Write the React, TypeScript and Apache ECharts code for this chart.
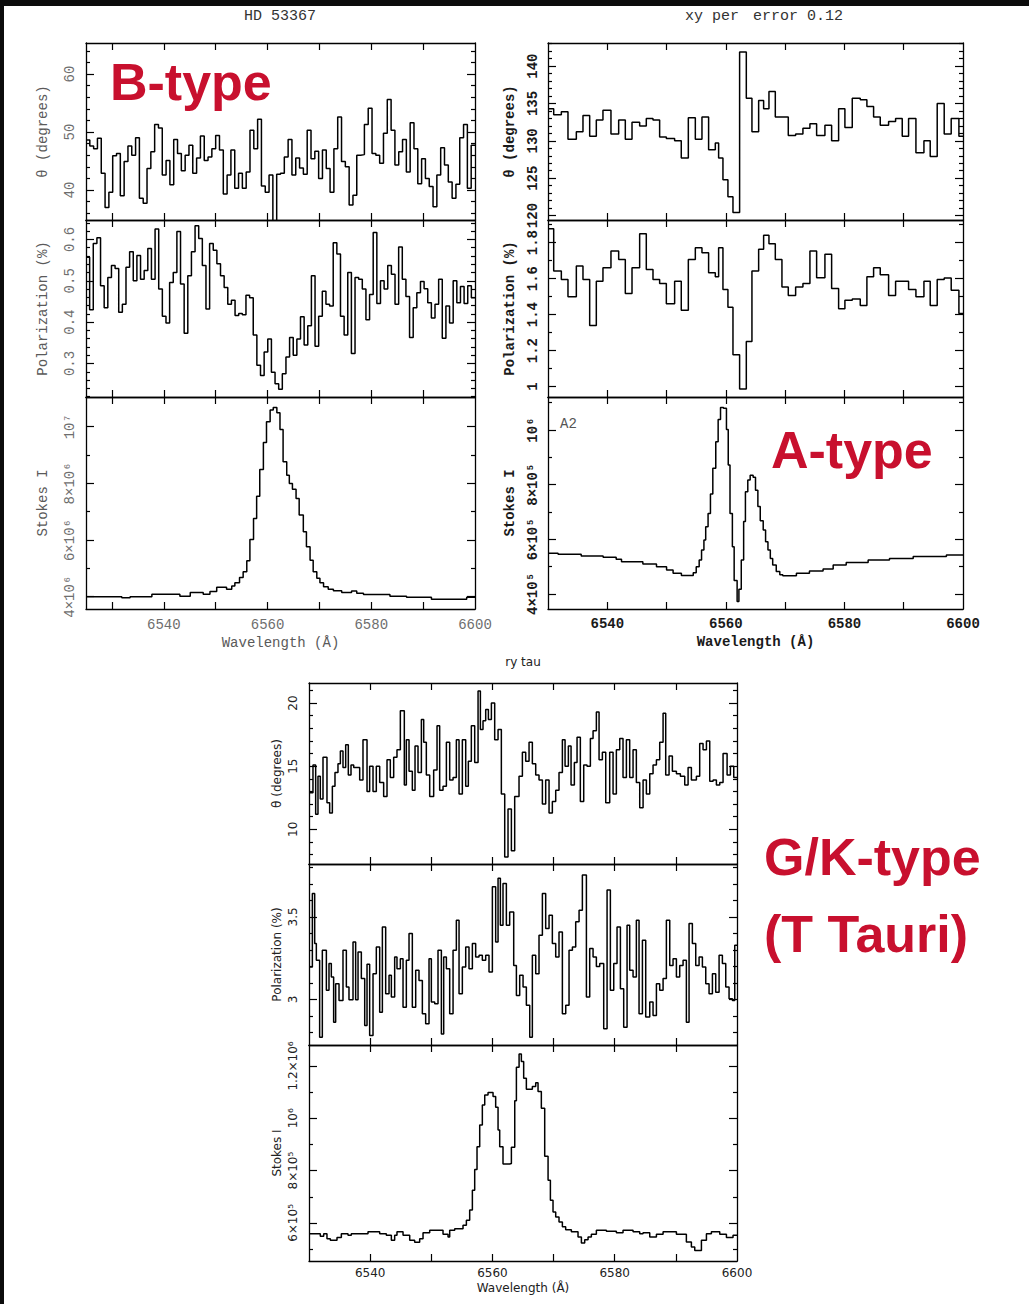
import React, { useEffect, useRef } from "react";
import * as echarts from "echarts";

// ---------- shared wavelength axis ----------
const WAVE_LABELS = [6540, 6560, 6580, 6600];
const WAVE_TICKS_B = [6530, 6540, 6550, 6560, 6570, 6580, 6590];
const WAVE_TICKS = [6540, 6550, 6560, 6570, 6580, 6590];

// ---------- B-type : HD 53367 (6525-6600 A, uniform bins) ----------
const bTheta = [
  48.6, 47.6, 47.1, 48.9, 42.9, 37.0, 39.6, 45.9, 46.3, 39.0,
  44.9, 47.6, 46.0, 49.0, 38.6, 37.7, 43.7, 46.6, 51.3, 50.7,
  42.6, 45.1, 40.9, 48.7, 46.3, 43.3, 46.0, 47.7, 42.9, 45.5,
  49.3, 45.1, 45.7, 47.1, 49.4, 46.9, 39.3, 42.6, 46.9, 40.3,
  42.9, 40.3, 43.1, 50.3, 47.1, 52.2, 40.7, 39.6, 42.6, 34.6,
  42.7, 42.9, 45.7, 48.7, 42.6, 45.5, 43.8, 42.7, 50.3, 45.4,
  46.7, 42.0, 46.9, 43.7, 39.6, 47.1, 52.6, 44.9, 44.0, 37.4,
  39.1, 46.0, 46.1, 51.3, 54.1, 46.3, 46.0, 44.6, 49.8, 55.6,
  50.3, 44.3, 46.6, 48.7, 43.1, 51.6, 47.1, 41.1, 45.4, 42.0,
  40.6, 37.1, 42.6, 47.3, 44.3, 41.4, 38.6, 41.0, 49.0, 51.3,
  40.3, 47.7,
];
const bPol = [
  0.557, 0.43, 0.59, 0.604, 0.488, 0.435, 0.508, 0.537, 0.53, 0.424,
  0.443, 0.533, 0.57, 0.5, 0.561, 0.504, 0.525, 0.578, 0.504, 0.625,
  0.48, 0.414, 0.398, 0.496, 0.52, 0.619, 0.492, 0.373, 0.512, 0.57,
  0.633, 0.602, 0.537, 0.432, 0.59, 0.574, 0.541, 0.512, 0.484, 0.443,
  0.453, 0.416, 0.421, 0.418, 0.465, 0.459, 0.369, 0.296, 0.271, 0.328,
  0.359, 0.279, 0.251, 0.238, 0.275, 0.316, 0.363, 0.32, 0.359, 0.413,
  0.345, 0.391, 0.512, 0.342, 0.414, 0.475, 0.443, 0.439, 0.592, 0.565,
  0.414, 0.369, 0.52, 0.324, 0.508, 0.504, 0.48, 0.406, 0.467, 0.617,
  0.445, 0.5, 0.48, 0.537, 0.516, 0.443, 0.582, 0.504, 0.462, 0.363,
  0.435, 0.471, 0.498, 0.481, 0.447, 0.41, 0.443, 0.504, 0.361, 0.439,
  0.398, 0.5, 0.447, 0.486, 0.445, 0.488, 0.459,
];
const bStokesEdges = [
  6525.0, 6531.9, 6533.5, 6537.7, 6543.1, 6545.1, 6547.6, 6548.9, 6550.2, 6552.1,
  6553.1, 6553.7, 6554.6, 6555.3, 6556.0, 6556.6, 6557.3, 6557.9, 6558.5, 6559.2,
  6559.8, 6560.5, 6561.1, 6561.8, 6562.4, 6563.0, 6563.7, 6564.2, 6564.8, 6565.5,
  6566.1, 6566.9, 6567.5, 6568.2, 6568.8, 6569.5, 6570.1, 6570.8, 6571.7, 6572.7,
  6574.3, 6576.2, 6577.2, 6578.5, 6583.6, 6586.8, 6591.6, 6598.4,
];
// Stokes I in units of 10^6
const bStokesI = [
  4.0, 3.96, 4.0, 4.09, 4.02, 4.15, 4.09, 4.18, 4.33, 4.26,
  4.38, 4.49, 4.68, 4.88, 5.27, 6.02, 6.76, 7.55, 8.49, 9.44,
  10.18, 10.59, 10.68, 10.49, 9.9, 8.76, 8.29, 8.0, 7.79, 7.47,
  6.88, 6.29, 5.76, 5.29, 4.88, 4.65, 4.49, 4.35, 4.26, 4.21,
  4.15, 4.2, 4.12, 4.08, 4.02, 3.98, 3.91, 3.98,
];

// ---------- A-type : xy per (6530-6600 A) ----------
const aEdges = [
  6530.0, 6530.96, 6532.25, 6533.37, 6534.78, 6535.9, 6537.03, 6538.15, 6539.27, 6540.62,
  6541.92, 6543.04, 6544.17, 6545.46, 6546.58, 6547.71, 6548.83, 6549.96, 6551.36, 6552.48,
  6553.67, 6554.85, 6555.97, 6557.09, 6558.22, 6558.78, 6559.51, 6560.35, 6561.2, 6562.32,
  6563.45, 6564.4, 6565.53, 6566.37, 6567.27, 6568.34, 6569.46, 6570.53, 6571.77, 6573.0,
  6574.18, 6575.31, 6576.71, 6577.84, 6579.02, 6580.08, 6581.32, 6582.67, 6583.79, 6584.92,
  6586.04, 6587.45, 6588.63, 6589.75, 6590.82, 6592.06, 6593.41, 6594.47, 6595.65, 6596.83,
  6598.01, 6599.31,
];
const aTheta = [
  134.3, 133.5, 133.9, 130.2, 131.2, 133.4, 130.6, 132.8, 134.1, 130.9,
  132.8, 130.2, 132.5, 132.0, 133.0, 132.8, 130.5, 130.3, 130.0, 127.7,
  133.1, 130.2, 133.2, 128.8, 129.7, 127.7, 124.8, 122.5, 120.4, 141.9,
  135.7, 131.2, 135.4, 134.3, 136.6, 133.2, 133.2, 130.7, 130.9, 131.7,
  132.3, 130.7, 132.1, 130.0, 134.3, 131.8, 135.7, 135.5, 134.6, 133.2,
  132.1, 132.6, 133.0, 130.6, 133.0, 128.4, 130.0, 127.9, 135.0, 130.9,
  133.0, 130.6,
];
const aPol = [
  1.878, 1.642, 1.595, 1.499, 1.67, 1.595, 1.339, 1.586, 1.66, 1.753,
  1.707, 1.517, 1.66, 1.85, 1.651, 1.595, 1.573, 1.461, 1.586, 1.424,
  1.707, 1.772, 1.744, 1.633, 1.61, 1.772, 1.54, 1.441, 1.177, 0.987,
  1.251, 1.642, 1.763, 1.841, 1.794, 1.707, 1.554, 1.506, 1.554, 1.573,
  1.753, 1.605, 1.735, 1.545, 1.432, 1.48, 1.487, 1.45, 1.61, 1.66,
  1.621, 1.506, 1.586, 1.586, 1.54, 1.499, 1.586, 1.45, 1.595, 1.603,
  1.536, 1.406,
];
const aStokesEdges = [
  6530.0, 6531.7, 6535.6, 6539.3, 6541.5, 6542.4, 6546.0, 6548.3, 6550.0, 6551.1,
  6552.5, 6554.5, 6555.0, 6555.5, 6555.9, 6556.3, 6556.6, 6557.0, 6557.4, 6557.8,
  6558.3, 6558.7, 6559.1, 6559.6, 6560.1, 6560.4, 6560.7, 6561.1, 6561.4, 6561.9,
  6562.2, 6562.6, 6563.0, 6563.3, 6563.7, 6564.1, 6564.6, 6565.0, 6565.4, 6565.8,
  6566.3, 6566.7, 6567.1, 6567.5, 6567.9, 6568.5, 6569.1, 6569.6, 6571.9, 6574.1,
  6576.4, 6578.1, 6580.3, 6584.0, 6587.6, 6591.6, 6597.2,
];
// Stokes I in units of 10^5
const aStokesI = [
  5.49, 5.45, 5.39, 5.34, 5.27, 5.18, 5.1, 5.0, 4.88, 4.76,
  4.68, 4.78, 5.0, 5.24, 5.61, 5.98, 6.46, 6.95, 7.66, 8.6,
  9.57, 10.39, 10.83, 10.8, 10.02, 8.72, 6.95, 5.73, 4.49, 3.72,
  4.17, 5.24, 6.65, 7.74, 8.17, 8.35, 8.27, 7.8, 7.2, 6.68,
  6.34, 5.91, 5.61, 5.3, 5.06, 4.82, 4.7, 4.67, 4.76, 4.84,
  4.91, 5.06, 5.15, 5.24, 5.3, 5.37, 5.43,
];

// ---------- G/K-type : RY Tau (6530-6600 A) ----------
const gkThetaEdges = [
  6530.0, 6530.65, 6531.09, 6531.47, 6531.85, 6532.29, 6532.94, 6533.38, 6533.82, 6534.25,
  6534.74, 6535.13, 6535.56, 6536.0, 6536.43, 6536.87, 6537.31, 6538.29, 6538.83, 6539.49,
  6539.92, 6540.47, 6541.01, 6541.56, 6542.21, 6542.76, 6543.3, 6543.85, 6544.39, 6544.94,
  6545.59, 6545.92, 6546.36, 6546.9, 6547.34, 6547.83, 6548.38, 6548.76, 6549.19, 6549.74,
  6550.39, 6550.94, 6551.37, 6551.92, 6552.47, 6553.01, 6553.56, 6554.1, 6554.54, 6555.08,
  6555.63, 6556.06, 6556.55, 6557.1, 6557.65, 6558.03, 6558.46, 6558.9, 6559.34, 6559.83,
  6560.37, 6560.92, 6561.46, 6562.01, 6562.55, 6563.1, 6563.64, 6564.35, 6564.9, 6565.44,
  6565.99, 6566.53, 6567.08, 6567.62, 6568.17, 6568.71, 6569.26, 6569.8, 6570.35, 6570.89,
  6571.44, 6571.88, 6572.42, 6572.86, 6573.4, 6573.84, 6574.38, 6574.93, 6575.47, 6576.02,
  6576.46, 6577.0, 6577.44, 6577.98, 6578.53, 6579.18, 6579.73, 6580.27, 6580.82, 6581.36,
  6581.91, 6582.45, 6583.0, 6583.54, 6584.09, 6584.64, 6585.18, 6585.73, 6586.27, 6586.82,
  6587.36, 6587.91, 6588.34, 6588.89, 6589.43, 6590.09, 6590.74, 6591.45, 6592.0, 6592.54,
  6593.36, 6593.9, 6594.45, 6595.0, 6595.54, 6596.09, 6596.63, 6597.18, 6597.72, 6598.38,
  6598.92, 6599.47,
];
const gkTheta = [
  12.9, 15.1, 11.2, 14.2, 12.4, 15.7, 12.1, 11.3, 13.4, 14.5,
  15.2, 16.2, 14.9, 16.7, 14.3, 15.1, 14.9, 13.9, 17.1, 13.0,
  15.0, 13.0, 15.0, 13.7, 12.6, 15.5, 14.1, 15.7, 16.3, 19.4,
  13.5, 17.1, 14.6, 13.1, 16.6, 14.5, 18.7, 16.9, 14.3, 12.6,
  14.7, 18.2, 13.1, 13.4, 16.9, 13.9, 14.1, 17.1, 12.8, 17.1,
  13.4, 15.4, 18.2, 15.3, 20.95, 17.9, 18.6, 19.5, 18.7, 20.0,
  17.1, 17.9, 12.8, 7.8, 11.6, 8.3, 12.6, 14.2, 16.1, 15.4,
  16.9, 15.2, 14.3, 13.9, 12.0, 13.9, 11.3, 12.2, 13.1, 14.5,
  17.1, 15.0, 16.6, 13.5, 15.3, 17.3, 12.2, 15.1, 15.0, 17.2,
  17.8, 19.3, 15.5, 16.1, 12.1, 16.1, 12.8, 16.3, 17.2, 14.1,
  17.1, 14.1, 16.3, 13.7, 11.7, 13.9, 12.8, 14.4, 15.1, 15.5,
  16.9, 19.2, 14.3, 15.8, 14.6, 14.4, 14.2, 13.5, 14.9, 13.9,
  14.2, 16.8, 16.3, 17.0, 13.8, 13.9, 13.5, 13.7, 16.0, 14.3,
  15.0, 14.1,
];
const gkPolEdges = [
  6530.0, 6530.55, 6530.93, 6531.2, 6531.74, 6532.18, 6532.84, 6533.27, 6533.65, 6534.03,
  6534.36, 6534.91, 6535.56, 6536.11, 6536.54, 6537.2, 6537.63, 6538.02, 6538.56, 6539.11,
  6539.49, 6539.92, 6540.47, 6541.01, 6541.56, 6542.0, 6542.54, 6543.09, 6543.47, 6544.01,
  6544.39, 6544.94, 6545.38, 6545.92, 6546.36, 6546.9, 6547.45, 6547.99, 6548.54, 6549.08,
  6549.63, 6550.01, 6550.56, 6551.1, 6551.65, 6552.03, 6552.47, 6553.01, 6553.56, 6554.1,
  6554.54, 6555.08, 6555.63, 6556.17, 6556.72, 6557.26, 6557.81, 6558.35, 6558.9, 6559.44,
  6559.99, 6560.53, 6560.92, 6561.3, 6561.73, 6562.28, 6562.82, 6563.48, 6563.92, 6564.46,
  6565.01, 6565.55, 6566.1, 6566.53, 6567.08, 6567.62, 6568.17, 6568.71, 6569.26, 6569.8,
  6570.35, 6570.89, 6571.44, 6571.99, 6572.53, 6573.08, 6573.62, 6574.17, 6574.71, 6575.37,
  6575.91, 6576.46, 6577.0, 6577.55, 6578.2, 6578.75, 6579.29, 6579.84, 6580.38, 6580.93,
  6581.47, 6582.02, 6582.45, 6583.0, 6583.54, 6583.98, 6584.53, 6585.07, 6585.73, 6586.27,
  6586.82, 6587.36, 6587.91, 6588.45, 6589.0, 6589.54, 6590.09, 6590.63, 6591.18, 6591.72,
  6592.16, 6592.7, 6593.25, 6593.8, 6594.34, 6594.89, 6595.43, 6595.98, 6596.52, 6597.07,
  6597.61, 6598.16, 6598.7, 6599.25, 6599.63,
];
const gkPol = [
  3.196, 3.642, 3.338, 3.237, 2.771, 3.298, 3.055, 3.217, 3.136, 2.862,
  3.095, 2.994, 3.298, 3.075, 2.998, 3.348, 2.998, 3.287, 3.126, 2.842,
  3.213, 2.781, 3.156, 3.318, 2.923, 3.439, 3.034, 3.146, 3.014, 3.257,
  3.186, 3.247, 2.953, 3.237, 3.399, 2.953, 3.176, 3.115, 2.913, 2.852,
  3.247, 2.984, 2.974, 3.298, 2.791, 3.257, 3.186, 2.913, 3.298, 3.48,
  3.034, 3.196, 3.318, 3.186, 3.338, 3.257, 3.267, 3.237, 3.267, 3.166,
  3.682, 3.348, 3.733, 3.449, 3.702, 3.449, 3.53, 3.206, 3.024, 3.146,
  3.075, 2.964, 2.771, 3.267, 3.156, 3.389, 3.642, 3.429, 3.51, 3.338,
  3.257, 3.409, 2.913, 2.964, 3.298, 3.318, 3.47, 3.54, 3.753, 3.014,
  3.308, 3.257, 3.2, 3.217, 2.822, 3.662, 3.055, 3.217, 3.439, 3.065,
  2.832, 3.449, 3.176, 3.136, 3.48, 2.913, 3.358, 2.893, 2.984, 2.903,
  3.095, 3.055, 3.126, 3.48, 3.206, 3.247, 3.136, 3.206, 3.237, 2.862,
  3.46, 3.338, 3.206, 3.257, 3.196, 3.095, 3.034, 3.156, 3.044, 3.267,
  3.217, 3.075, 3.004, 2.994, 3.328,
];
const gkStokesEdges = [
  6530.0, 6531.85, 6532.4, 6532.94, 6533.49, 6534.58, 6535.29, 6536.38, 6536.92, 6539.65,
  6541.56, 6542.65, 6543.47, 6544.01, 6544.39, 6545.38, 6546.47, 6547.28, 6548.1, 6548.65,
  6549.74, 6551.92, 6552.74, 6553.01, 6553.83, 6555.19, 6555.74, 6556.28, 6556.72, 6557.1,
  6557.48, 6557.92, 6558.35, 6558.74, 6559.28, 6560.1, 6560.53, 6560.92, 6561.19, 6561.73,
  6562.82, 6563.1, 6563.65, 6563.92, 6564.36, 6564.73, 6565.11, 6565.55, 6566.53, 6567.08,
  6567.46, 6568.0, 6568.55, 6569.1, 6569.48, 6569.91, 6570.35, 6570.89, 6571.44, 6571.98,
  6572.91, 6574.0, 6574.55, 6575.09, 6575.64, 6576.18, 6577.0, 6578.64, 6580.27, 6581.36,
  6583.0, 6584.09, 6584.63, 6585.73, 6586.82, 6587.91, 6590.09, 6591.72, 6592.54, 6593.09,
  6594.18, 6595.0, 6595.81, 6597.18, 6598.27, 6599.35,
];
// Stokes I in units of 10^5
const gkStokesI = [
  5.59, 5.49, 5.59, 5.4, 5.34, 5.44, 5.59, 5.53, 5.59, 5.66,
  5.59, 5.53, 5.34, 5.53, 5.66, 5.53, 5.34, 5.26, 5.4, 5.62,
  5.72, 5.57, 5.46, 5.72, 5.78, 5.91, 6.1, 6.49, 7.25, 8.04,
  8.91, 9.74, 10.51, 10.89, 10.98, 10.83, 10.42, 9.55, 8.91, 8.25,
  8.27, 8.89, 10.67, 11.95, 12.46, 12.17, 11.53, 11.11, 11.21, 11.36,
  11.02, 10.38, 8.55, 7.63, 6.87, 6.42, 6.23, 6.04, 5.85, 5.74,
  5.66, 5.46, 5.23, 5.36, 5.46, 5.57, 5.72, 5.68, 5.62, 5.72,
  5.66, 5.59, 5.62, 5.46, 5.57, 5.66, 5.57, 5.27, 5.08, 4.95,
  5.34, 5.59, 5.66, 5.57, 5.44, 5.53,
];

// ---------- y tick values / labels ----------
const bThetaTicks = [40, 50, 60];
const bThetaLabels = ["40", "50", "60"];
const bThetaMinor = [36, 38, 42, 44, 46, 48, 52, 54, 56, 58, 62, 64];
const bPolTicks = [0.3, 0.4, 0.5, 0.6];
const bPolLabels = ["0.3", "0.4", "0.5", "0.6"];
const bPolMinor = [0.22, 0.24, 0.26, 0.28, 0.32, 0.34, 0.36, 0.38, 0.42, 0.44, 0.46, 0.48, 0.52, 0.54, 0.56, 0.58, 0.62, 0.64];
const bStokesTicks = [4, 6, 8, 10];
const bStokesLabels = ["4×10⁶", "6×10⁶", "8×10⁶", "10⁷"];
const bStokesMinor = [5, 7, 9];

const aThetaTicks = [120, 125, 130, 135, 140];
const aThetaLabels = ["120", "125", "130", "135", "140"];
const aThetaMinor = [121, 122, 123, 124, 126, 127, 128, 129, 131, 132, 133, 134, 136, 137, 138, 139, 141, 142, 143];
const aPolTicks = [1, 1.2, 1.4, 1.6, 1.8];
const aPolLabels = ["1", "1.2", "1.4", "1.6", "1.8"];
const aPolMinor = [1.1, 1.3, 1.5, 1.7, 1.9];
const aStokesTicks = [4, 6, 8, 10];
const aStokesLabels = ["4×10⁵", "6×10⁵", "8×10⁵", "10⁶"];
const aStokesMinor = [5, 7, 9, 11];

const gkThetaTicks = [10, 15, 20];
const gkThetaLabels = ["10", "15", "20"];
const gkThetaMinor = [8, 9, 11, 12, 13, 14, 16, 17, 18, 19, 21];
const gkPolTicks = [3, 3.5];
const gkPolLabels = ["3", "3.5"];
const gkPolMinor = [2.8, 2.9, 3.1, 3.2, 3.3, 3.4, 3.6, 3.7, 3.8];
const gkStokesTicks = [6, 8, 10, 12];
const gkStokesLabels = ["6×10⁵", "8×10⁵", "10⁶", "1.2×10⁶"];
const gkStokesMinor = [5, 7, 9, 11];

// ---------- helpers ----------
function uniformEdges(x0: number, x1: number, n: number) {
  const out: number[] = [];
  for (let i = 0; i < n; i++) out.push(x0 + ((x1 - x0) * i) / n);
  return out;
}
function stepData(edges: number[], vals: number[], end: number) {
  const n = Math.min(edges.length, vals.length);
  const d: number[][] = [];
  for (let i = 0; i < n; i++) d.push([edges[i], vals[i]]);
  d.push([end, vals[n - 1]]);
  return d;
}

const MONO = '"Liberation Mono", "DejaVu Sans Mono", monospace';
const SANS = '"DejaVu Sans", "Liberation Sans", sans-serif';

const styleB = { family: MONO, size: 14, color: "#6e6e6e", nameColor: "#5a5a5a", weight: "normal", yLabelMargin: 9, yNameGap: 36, xLabelMargin: 9, xNameGap: 27 };
const styleA = { family: MONO, size: 14, color: "#1a1a1a", nameColor: "#1a1a1a", weight: "bold", yLabelMargin: 8, yNameGap: 31, xLabelMargin: 8, xNameGap: 26 };
const styleG = { family: SANS, size: 12, color: "#222", nameColor: "#222", weight: "normal", yLabelMargin: 10, yNameGap: 26, xLabelMargin: 6, xNameGap: 21 };

function buildOption() {
  const panels = [
    // B-type
    { left: 86, top: 43, width: 389, height: 177, xMin: 6525, xMax: 6600, xTicks: WAVE_TICKS_B, showX: false,
      yMin: 34.83, yMax: 65.34, yMajor: bThetaTicks, yLabels: bThetaLabels, yMinor: bThetaMinor, yName: "θ (degrees)",
      data: stepData(uniformEdges(6525, 6600, bTheta.length), bTheta, 6600), s: styleB },
    { left: 86, top: 220, width: 389, height: 177, xMin: 6525, xMax: 6600, xTicks: WAVE_TICKS_B, showX: false,
      yMin: 0.219, yMax: 0.647, yMajor: bPolTicks, yLabels: bPolLabels, yMinor: bPolMinor, yName: "Polarization (%)",
      data: stepData(uniformEdges(6525, 6600, bPol.length), bPol, 6600), s: styleB },
    { left: 86, top: 397, width: 389, height: 212, xMin: 6525, xMax: 6600, xTicks: WAVE_TICKS_B, showX: true,
      yMin: 3.566, yMax: 11.05, yMajor: bStokesTicks, yLabels: bStokesLabels, yMinor: bStokesMinor, yName: "Stokes I",
      data: stepData(bStokesEdges, bStokesI, 6600), s: styleB },
    // A-type
    { left: 548, top: 43, width: 415, height: 177, xMin: 6530, xMax: 6600, xTicks: WAVE_TICKS, showX: false,
      yMin: 119.4, yMax: 143.1, yMajor: aThetaTicks, yLabels: aThetaLabels, yMinor: aThetaMinor, yName: "θ (degrees)",
      data: stepData(aEdges, aTheta, 6600), s: styleA },
    { left: 548, top: 220, width: 415, height: 177, xMin: 6530, xMax: 6600, xTicks: WAVE_TICKS, showX: false,
      yMin: 0.942, yMax: 1.926, yMajor: aPolTicks, yLabels: aPolLabels, yMinor: aPolMinor, yName: "Polarization (%)",
      data: stepData(aEdges, aPol, 6600), s: styleA },
    { left: 548, top: 397, width: 415, height: 212, xMin: 6530, xMax: 6600, xTicks: WAVE_TICKS, showX: true,
      yMin: 3.45, yMax: 11.21, yMajor: aStokesTicks, yLabels: aStokesLabels, yMinor: aStokesMinor, yName: "Stokes I",
      data: stepData(aStokesEdges, aStokesI, 6600), s: styleA },
    // G/K-type
    { left: 309, top: 683, width: 428, height: 181, xMin: 6530, xMax: 6600, xTicks: WAVE_TICKS, showX: false,
      yMin: 7.25, yMax: 21.59, yMajor: gkThetaTicks, yLabels: gkThetaLabels, yMinor: gkThetaMinor, yName: "θ (degrees)",
      data: stepData(gkThetaEdges, gkTheta, 6600), s: styleG },
    { left: 309, top: 864, width: 428, height: 181, xMin: 6530, xMax: 6600, xTicks: WAVE_TICKS, showX: false,
      yMin: 2.724, yMax: 3.82, yMajor: gkPolTicks, yLabels: gkPolLabels, yMinor: gkPolMinor, yName: "Polarization (%)",
      data: stepData(gkPolEdges, gkPol, 6600), s: styleG },
    { left: 309, top: 1045, width: 428, height: 216, xMin: 6530, xMax: 6600, xTicks: WAVE_TICKS, showX: true,
      yMin: 4.545, yMax: 12.8, yMajor: gkStokesTicks, yLabels: gkStokesLabels, yMinor: gkStokesMinor, yName: "Stokes I",
      data: stepData(gkStokesEdges, gkStokesI, 6600), s: styleG },
  ];

  const grid: any[] = [];
  const xAxis: any[] = [];
  const yAxis: any[] = [];
  const series: any[] = [];
  const frame = { color: "#000", width: 1.3 };
  const tickLine = { color: "#000", width: 1.2 };

  panels.forEach((p, g) => {
    const s = p.s;
    grid.push({ left: p.left, top: p.top, width: p.width, height: p.height, containLabel: false });
    const xi = xAxis.length;
    xAxis.push({
      type: "value", gridIndex: g, position: "bottom", min: p.xMin, max: p.xMax,
      axisLine: { show: true, onZero: false, lineStyle: frame },
      axisTick: { show: true, inside: true, length: 7, customValues: p.xTicks, lineStyle: tickLine },
      axisLabel: {
        show: p.showX, customValues: WAVE_LABELS, margin: s.xLabelMargin,
        fontFamily: s.family, fontSize: s.size, color: s.color, fontWeight: s.weight,
        formatter: (v: number) => String(Math.round(v)),
      },
      splitLine: { show: false },
      name: p.showX ? "Wavelength (Å)" : "",
      nameLocation: "middle", nameGap: s.xNameGap,
      nameTextStyle: { fontFamily: s.family, fontSize: s.size, color: s.nameColor, fontWeight: s.weight },
    });
    xAxis.push({
      type: "value", gridIndex: g, position: "top", min: p.xMin, max: p.xMax,
      axisLine: { show: true, onZero: false, lineStyle: frame },
      axisTick: { show: true, inside: true, length: 7, customValues: p.xTicks, lineStyle: tickLine },
      axisLabel: { show: false }, splitLine: { show: false },
    });
    const yi = yAxis.length;
    const fmt = (v: number) => {
      const i = p.yMajor.findIndex((m) => Math.abs(m - v) < 1e-6);
      return i >= 0 ? p.yLabels[i] : "";
    };
    yAxis.push({
      type: "value", gridIndex: g, position: "left", min: p.yMin, max: p.yMax,
      axisLine: { show: true, onZero: false, lineStyle: frame },
      axisTick: { show: true, inside: true, length: 8, customValues: p.yMajor, lineStyle: tickLine },
      axisLabel: {
        show: true, customValues: p.yMajor, rotate: 90, margin: s.yLabelMargin,
        fontFamily: s.family, fontSize: s.size, color: s.color, fontWeight: s.weight, formatter: fmt,
      },
      splitLine: { show: false },
      name: p.yName, nameLocation: "middle", nameRotate: 90, nameGap: s.yNameGap,
      nameTextStyle: { fontFamily: s.family, fontSize: s.size, color: s.nameColor, fontWeight: s.weight },
    });
    yAxis.push({
      type: "value", gridIndex: g, position: "left", min: p.yMin, max: p.yMax,
      axisLine: { show: false, onZero: false },
      axisTick: { show: true, inside: true, length: 4, customValues: p.yMinor, lineStyle: tickLine },
      axisLabel: { show: false }, splitLine: { show: false },
    });
    yAxis.push({
      type: "value", gridIndex: g, position: "right", min: p.yMin, max: p.yMax,
      axisLine: { show: true, onZero: false, lineStyle: frame },
      axisTick: { show: true, inside: true, length: 8, customValues: p.yMajor, lineStyle: tickLine },
      axisLabel: { show: false }, splitLine: { show: false },
    });
    yAxis.push({
      type: "value", gridIndex: g, position: "right", min: p.yMin, max: p.yMax,
      axisLine: { show: false, onZero: false },
      axisTick: { show: true, inside: true, length: 4, customValues: p.yMinor, lineStyle: tickLine },
      axisLabel: { show: false }, splitLine: { show: false },
    });
    series.push({
      type: "line", xAxisIndex: xi, yAxisIndex: yi, data: p.data, step: "end",
      symbol: "none", showSymbol: false, silent: true, clip: true,
      lineStyle: { color: "#000", width: 1.5 },
    });
  });

  const RED = "#c8102e";
  const redFont = 'bold 52px "Liberation Sans", Arial, sans-serif';
  const graphic: any[] = [
    { type: "rect", shape: { x: 0, y: 0, width: 1029, height: 6 }, style: { fill: "#0c0c0c" }, z: 100 },
    { type: "rect", shape: { x: 0, y: 0, width: 4, height: 1304 }, style: { fill: "#0c0c0c" }, z: 100 },
    { type: "text", x: 280, y: 16, z: 100, style: { text: "HD 53367", font: `15px ${MONO}`, fill: "#333", textAlign: "center", textVerticalAlign: "middle" } },
    { type: "text", x: 712, y: 16, z: 100, style: { text: "xy per", font: `15px ${MONO}`, fill: "#333", textAlign: "center", textVerticalAlign: "middle" } },
    { type: "text", x: 798, y: 16, z: 100, style: { text: "error 0.12", font: `15px ${MONO}`, fill: "#333", textAlign: "center", textVerticalAlign: "middle" } },
    { type: "text", x: 523, y: 662, z: 100, style: { text: "ry tau", font: `12px ${SANS}`, fill: "#222", textAlign: "center", textVerticalAlign: "middle" } },
    { type: "text", x: 560, y: 424, z: 100, style: { text: "A2", font: `14px ${MONO}`, fill: "#555", textAlign: "left", textVerticalAlign: "middle" } },
    { type: "text", x: 110, y: 82, z: 100, style: { text: "B-type", font: redFont, fill: RED, textAlign: "left", textVerticalAlign: "middle" } },
    { type: "text", x: 771, y: 450, z: 100, style: { text: "A-type", font: redFont, fill: RED, textAlign: "left", textVerticalAlign: "middle" } },
    { type: "text", x: 764, y: 857, z: 100, style: { text: "G/K-type", font: redFont, fill: RED, textAlign: "left", textVerticalAlign: "middle" } },
    { type: "text", x: 764, y: 934, z: 100, style: { text: "(T Tauri)", font: redFont, fill: RED, textAlign: "left", textVerticalAlign: "middle" } },
  ];

  return { animation: false, backgroundColor: "#fff", grid, xAxis, yAxis, series, graphic };
}

export default function App() {
  const ref = useRef<HTMLDivElement>(null);
  useEffect(() => {
    if (!ref.current) return;
    const chart = echarts.init(ref.current, null, { renderer: "svg" });
    chart.setOption(buildOption() as any);
    return () => chart.dispose();
  }, []);
  return (
    <div
      ref={ref}
      style={{ position: "absolute", left: 0, top: 0, width: 1029, height: 1304, background: "#fff" }}
    />
  );
}
